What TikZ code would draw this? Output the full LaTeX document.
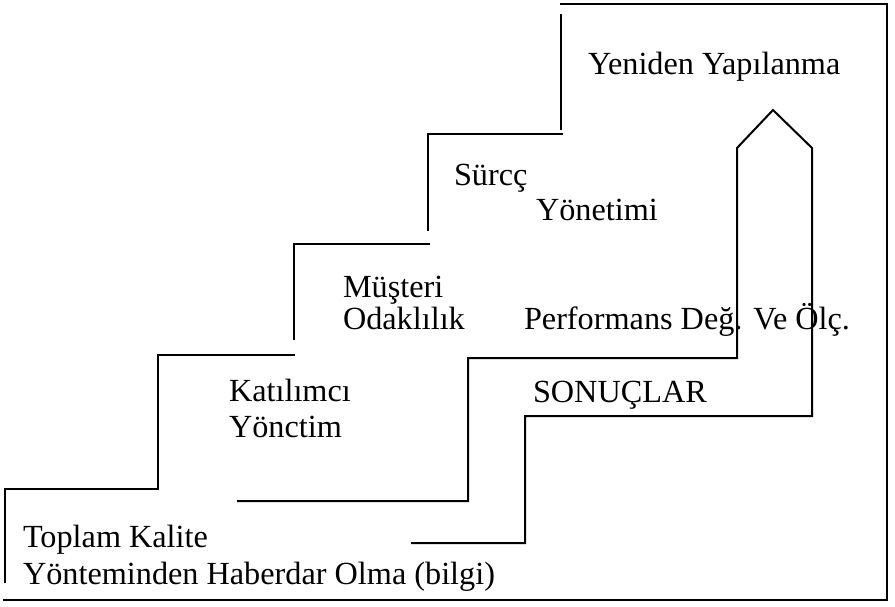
\documentclass[tikz,border=0pt]{standalone}
\usepackage{fontspec}
\setmainfont{Liberation Serif}
\usepackage{tikz}
\usetikzlibrary{positioning}
\tikzset{
        every path/.style={line width=0.8pt},
        label/.style={anchor=base west,inner sep=0pt,font=\fontsize{12.9}{15}\selectfont},
        }

\begin{document}
\begin{tikzpicture}[x=0.4pt,y=-0.4pt]
			\useasboundingbox (0,0) rectangle (895,607);

			% outer steps
			\draw (5,583) to (5,489) to (158,489) to (158,355) to (295,355);
			\draw (294,340) to (294,244) to (430,244);
			\draw (428,231) to (428,134) to (563,134);
			\draw (561,130) to (561,14);
			% frame
			\draw (560,4) to (887,4) to (887,600) to (3,600);

			% inner steps and arrow
			\draw (237,501) to (468,501) to (468,358) to (737,358) to (737,148)
				to (773,110) to (812,148) to (812,416) to (525,416) to (525,543) to (411,543);

			% step texts
			\node [label] (toplam) at (22,547) {Toplam Kalite};
			\node [label] (haberdar) at (22,584) {Yönteminden Haberdar Olma (bilgi)};
			\node [label] (katilimci) at (228,401) {Katılımcı};
			\node [label] (yonetim) at (228,437) {Yönctim};
			\node [label] (musteri) at (342,297) {Müşteri};
			\node [label] (odaklilik) at (342,329) {Odaklılık};
			\node [label] (surec) at (453,185) {Sürcç};
			\node [label] (surecyon) at (535,220) {Yönetimi};
			\node [label] (yeniden) at (587,74) {Yeniden Yapılanma};

			% results side
			\node [label] (performans) at (523,329) {Performans Değ. Ve Ölç.};
			\node [label] (sonuclar) at (532,402) {SONUÇLAR};
		\end{tikzpicture}
\end{document}
